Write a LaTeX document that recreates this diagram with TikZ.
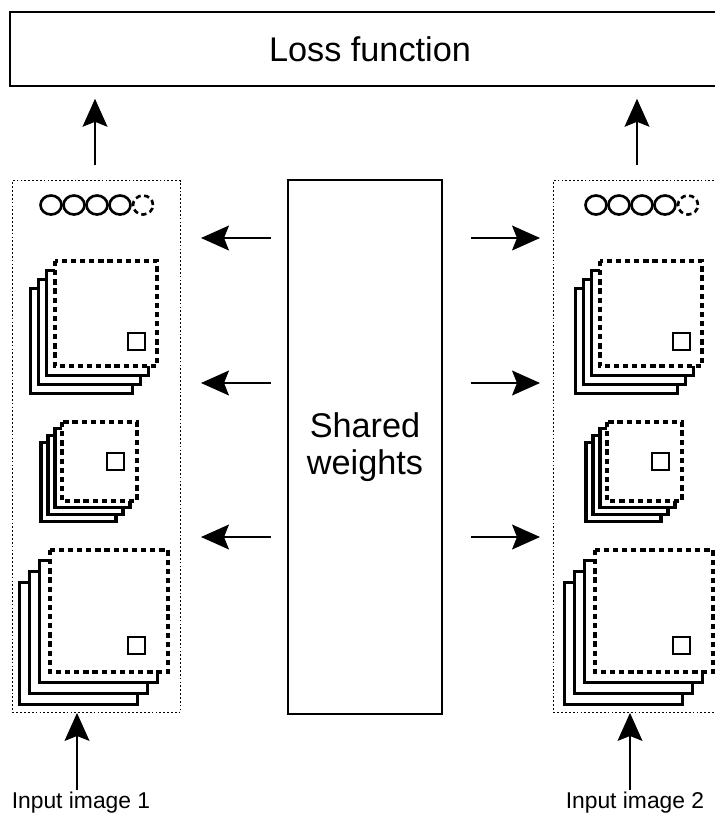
\documentclass[tikz,border=0pt]{standalone}
\usepackage{fontspec}
\setmainfont{Liberation Sans}
\usepackage{tikz}
\usetikzlibrary{arrows.meta, positioning, calc}

\begin{document}
\begin{tikzpicture}[
  x=0.02cm, y=-0.02cm,
  arr/.style={-{Stealth[length=5.6mm, width=5mm, inset=1mm]}, line width=0.6pt},
  bigbox/.style={draw, line width=0.9pt, align=center, font=\fontsize{19.5}{23}\selectfont},
  panel/.style={draw, line width=0.6pt, dash pattern=on 1pt off 1.2pt, anchor=north west,
                minimum width=3.36cm, minimum height=10.64cm, inner sep=0pt},
  fmap/.style={draw, fill=white, line width=1.8pt},
  fmapd/.style={draw, fill=white, line width=1.8pt, dash pattern=on 3pt off 2.2pt},
  kern/.style={draw, line width=0.7pt},
  unit/.style={draw, line width=1.5pt},
  lbl/.style={font=\fontsize{13}{15}\selectfont}]
  \useasboundingbox (0,0) rectangle (715,816);

  \node[bigbox, minimum width=14.4cm, minimum height=1.48cm] (loss) at (370,49) {Loss function};
  \node[bigbox, minimum width=3.08cm, minimum height=10.68cm] (shared) at (365,447) {Shared\\[-2pt]weights};
  \node[panel] (netA) at (12,180) {};
  \node[panel] (netB) at (553,180) {};
  \node[lbl] (inA) at (81,803) {Input image 1};
  \node[lbl] (inB) at (635,803) {Input image 2};

  \foreach \ox in {0,545} {
    \foreach \X/\Y/\W/\H/\dx/\dy/\kx/\ky in {55/261/102/105/8.3/9.3/73/72,
        62/422/75/79/7/6.7/45/31, 50/550/118/122/10.3/10.7/78/87} {
      \foreach \i in {3,2,1}
        \draw[fmap] (\ox+\X-\i*\dx, \Y+\i*\dy) rectangle ++(\W,\H);
      \draw[fmapd] (\ox+\X,\Y) rectangle ++(\W,\H);
      \draw[kern] (\ox+\X+\kx, \Y+\ky) rectangle ++(17,17);
    }
    \draw[unit, dash pattern=on 3pt off 2pt] (\ox+143,205) ellipse [x radius=0.2cm, y radius=0.19cm];
    \foreach \cx in {51,74,97,120}
      \draw[unit] (\ox+\cx,205) ellipse [x radius=0.21cm, y radius=0.19cm];
  }

  \coordinate (outA) at (95,165);
  \coordinate (outB) at (637,165);
  \draw[arr, shorten >=0.24cm] (outA) -- (outA |- loss.south);
  \draw[arr, shorten >=0.24cm] (outB) -- (outB |- loss.south);
  \draw[arr] ([xshift=-0.08cm, yshift=-0.08cm]inA.north) -- ([xshift=-0.08cm]inA.north |- netA.south);
  \draw[arr] ([xshift=-0.1cm, yshift=-0.08cm]inB.north) -- ([xshift=-0.1cm]inB.north |- netB.south);
  \foreach \yy in {238,383,537} {
    \draw[arr, shorten <=0.32cm, shorten >=0.4cm] (shared.west |- 0,\yy) -- (netA.east |- 0,\yy);
    \draw[arr, shorten <=0.56cm, shorten >=0.26cm] (shared.east |- 0,\yy) -- (netB.west |- 0,\yy);
  }
\end{tikzpicture}
\end{document}
